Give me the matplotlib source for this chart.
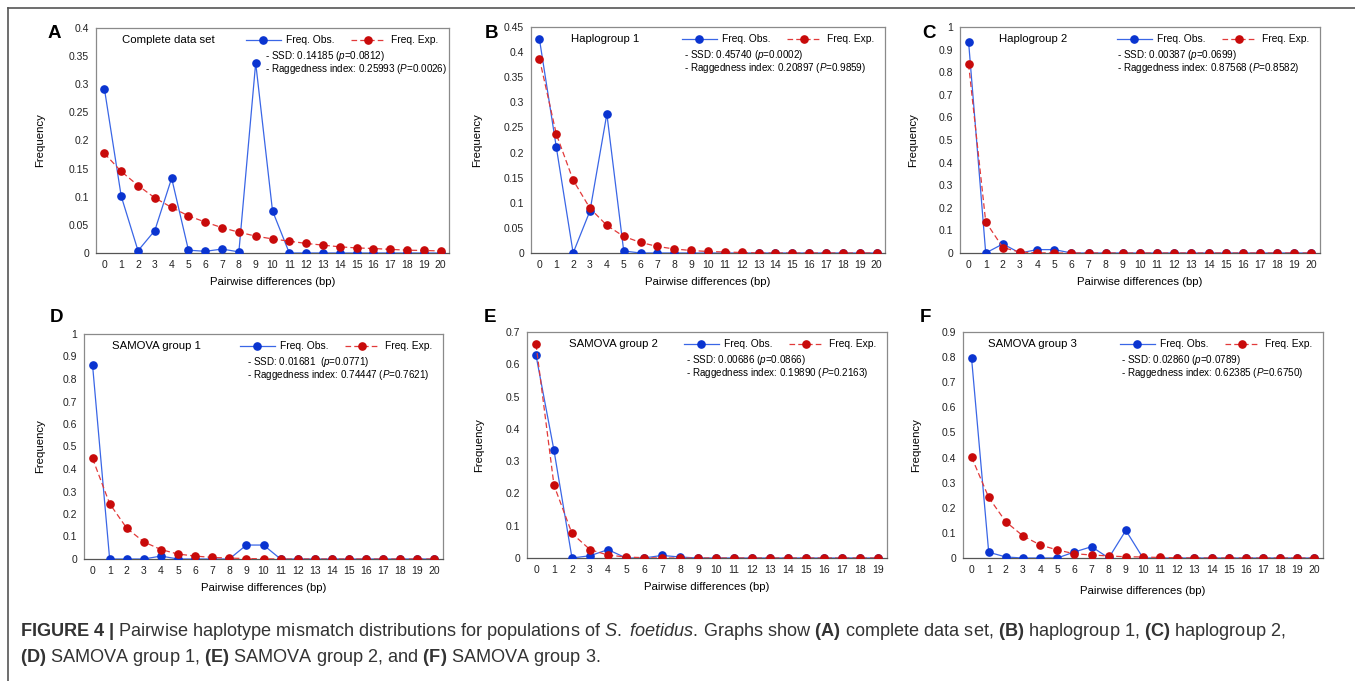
import numpy as np
import matplotlib
matplotlib.use("Agg")
import matplotlib.pyplot as plt
from matplotlib.ticker import FuncFormatter, MultipleLocator
from matplotlib.lines import Line2D

plt.rcParams['font.family'] = ['Liberation Sans', 'DejaVu Sans']
plt.rcParams['mathtext.fontset'] = 'custom'
plt.rcParams['mathtext.rm'] = 'Liberation Sans'
plt.rcParams['mathtext.it'] = 'Liberation Sans:italic'
plt.rcParams['mathtext.bf'] = 'Liberation Sans:bold'

# %% data
diffs_20 = list(range(21))
diffs_19 = list(range(20))

obs_a = [0.292, 0.101, 0.004, 0.040, 0.133, 0.005, 0.003, 0.007, 0.002, 0.338, 0.075,
         0, 0, 0, 0, 0, 0, 0, 0, 0, 0]
exp_a = [0.177, 0.145, 0.120, 0.098, 0.081, 0.066, 0.055, 0.045, 0.037, 0.030, 0.025,
         0.021, 0.017, 0.014, 0.011, 0.009, 0.008, 0.0065, 0.005, 0.0045, 0.0036]

obs_b = [0.426, 0.211, 0, 0.084, 0.277, 0.004, 0, 0, 0, 0, 0,
         0, 0, 0, 0, 0, 0, 0, 0, 0, 0]
exp_b = [0.387, 0.237, 0.145, 0.089, 0.055, 0.033, 0.021, 0.013, 0.008, 0.005, 0.003,
         0.002, 0.001, 0, 0, 0, 0, 0, 0, 0, 0]

obs_c = [0.935, 0, 0.040, 0, 0.015, 0.015, 0, 0, 0, 0, 0,
         0, 0, 0, 0, 0, 0, 0, 0, 0, 0]
exp_c = [0.836, 0.138, 0.024, 0.004, 0.001, 0, 0, 0, 0, 0, 0,
         0, 0, 0, 0, 0, 0, 0, 0, 0, 0]

obs_d = [0.862, 0, 0, 0, 0.013, 0, 0, 0, 0, 0.062, 0.062,
         0, 0, 0, 0, 0, 0, 0, 0, 0, 0]
exp_d = [0.447, 0.246, 0.137, 0.076, 0.042, 0.022, 0.013, 0.007, 0.004, 0.002, 0.001,
         0, 0, 0, 0, 0, 0, 0, 0, 0, 0]

obs_e = [0.628, 0.333, 0, 0.007, 0.026, 0, 0, 0.008, 0.003, 0,
         0, 0, 0, 0, 0, 0, 0, 0, 0, 0]
exp_e = [0.662, 0.225, 0.076, 0.026, 0.009, 0.003, 0.001, 0, 0, 0,
         0, 0, 0, 0, 0, 0, 0, 0, 0, 0]

obs_f = [0.795, 0.023, 0.004, 0, 0, 0, 0.024, 0.045, 0, 0.110, 0,
         0, 0, 0, 0, 0, 0, 0, 0, 0, 0]
exp_f = [0.402, 0.241, 0.144, 0.088, 0.052, 0.032, 0.017, 0.012, 0.008, 0.005, 0.004,
         0.002, 0.001, 0, 0, 0, 0, 0, 0, 0, 0]

letters = ['A', 'B', 'C', 'D', 'E', 'F']
groups = ['Complete data set', 'Haplogroup 1', 'Haplogroup 2',
          'SAMOVA group 1', 'SAMOVA group 2', 'SAMOVA group 3']
ssd = ['0.14185', '0.45740', '0.00387', '0.01681 ', '0.00686', '0.02860']
ssd_p = ['0.0812', '0.0002', '0.0699', '0.0771', '0.0866', '0.0789']
rag = ['0.25993', '0.20897', '0.87568', '0.74447', '0.19890', '0.62385']
rag_p = ['0.0026', '0.9859', '0.8582', '0.7621', '0.2163', '0.6750']
ymax = [0.4, 0.45, 1.0, 1.0, 0.7, 0.9]
ystep = [0.05, 0.05, 0.1, 0.1, 0.1, 0.1]

xs = [diffs_20, diffs_20, diffs_20, diffs_20, diffs_19, diffs_20]
obs = [obs_a, obs_b, obs_c, obs_d, obs_e, obs_f]
exp = [exp_a, exp_b, exp_c, exp_d, exp_e, exp_f]

# %% layout (pixels of the 1355x681 reference)
W, H = 1355, 681
boxes = [(96, 28, 353, 225), (531, 27, 354, 226), (960, 27, 360, 226),
         (84, 334, 359, 225), (527, 332, 360, 226), (963, 332, 360, 226)]
label_x = [0.074, 0.113, 0.108, 0.078, 0.117, 0.07]
ssd_x = [0.48, 0.432, 0.436, 0.454, 0.442, 0.44]
ylab_x = [-0.144, -0.138, -0.117, -0.109, -0.119, -0.117]
letter_pos = [(48, 33), (485, 33), (922, 33), (50, 317), (484, 317), (920, 317)]

obs_line, obs_mark = '#3a66e6', '#0a34d0'
exp_line, exp_mark = '#e23a3a', '#c80a0a'
spine_c = '#8a8a8a'

fig = plt.figure(figsize=(W / 100, H / 100), dpi=100)

fmt = FuncFormatter(lambda v, p: '{:g}'.format(round(v, 3)))

for i in range(6):
    l, t, w, h = boxes[i]
    ax = fig.add_axes([l / W, 1 - (t + h) / H, w / W, h / H])
    x = xs[i]
    ax.plot(x, obs[i], '-', color=obs_line, lw=0.9, marker='o', ms=5.2,
            mfc=obs_mark, mec=obs_mark, zorder=3)
    ax.plot(x, exp[i], '--', color=exp_line, lw=0.9, dashes=(4.5, 2.5), marker='o', ms=5.2,
            mfc=exp_mark, mec=exp_mark, zorder=4)
    ax.set_xlim(-0.5, len(x) - 0.5)
    ax.set_ylim(0, ymax[i])
    ax.set_xticks(x)
    ax.yaxis.set_major_locator(MultipleLocator(ystep[i]))
    ax.yaxis.set_major_formatter(fmt)
    ax.tick_params(length=0, labelsize=7.5, colors='#222222', pad=5)
    for s in ax.spines.values():
        s.set_color(spine_c)
        s.set_linewidth(0.9)
    ax.spines['bottom'].set_color('#555555')
    ax.set_xlabel('Pairwise differences (bp)', fontsize=8.2, labelpad=5 if i != 5 else 8)
    ax.set_ylabel('Frequency', fontsize=8.2)
    ax.yaxis.set_label_coords(ylab_x[i], 0.5)

    ax.text(label_x[i], 0.947, groups[i], transform=ax.transAxes, fontsize=8.2,
            ha='left', va='center')
    ax.text(ssd_x[i], 0.876, '- SSD: %s ($\\mathit{p}$=%s)' % (ssd[i], ssd_p[i]),
            transform=ax.transAxes, fontsize=7.1, ha='left', va='center')
    ax.text(ssd_x[i], 0.82, '- Raggedness index: %s ($\\mathit{P}$=%s)' % (rag[i], rag_p[i]),
            transform=ax.transAxes, fontsize=7.1, ha='left', va='center')

    handles = [Line2D([], [], color=obs_line, lw=0.9, marker='o', ms=5.2,
                      mfc=obs_mark, mec=obs_mark),
               Line2D([], [], color=exp_line, lw=0.9, ls='--', dashes=(4.5, 2.5), marker='o',
                      ms=5.2, mfc=exp_mark, mec=exp_mark)]
    ax.legend(handles, ['Freq. Obs.', 'Freq. Exp.'], ncol=2, loc='upper right',
              bbox_to_anchor=(0.99, 1.0), frameon=False, fontsize=7.4,
              handlelength=3.4, handletextpad=0.5, columnspacing=1.6,
              borderaxespad=0.3, markerscale=1.0)

    lx, ly = letter_pos[i]
    fig.text(lx / W, 1 - ly / H, letters[i], fontsize=13.5, fontweight='bold',
             ha='left', va='center')

# %% frame lines and caption
fig.add_artist(Line2D([8 / W, 1], [1 - 8 / H, 1 - 8 / H], color='#555555', lw=1.2))
fig.add_artist(Line2D([8 / W, 8 / W], [0, 1 - 8 / H], color='#555555', lw=1.2))

cap1 = ('$\\mathbf{FIGURE\\ 4\\ |}$ Pairwise haplotype mismatch distributions for populations of '
        '$\\mathit{S.}$ $\\mathit{foetidus}$. Graphs show $\\mathbf{(A)}$ complete data set, '
        '$\\mathbf{(B)}$ haplogroup 1, $\\mathbf{(C)}$ haplogroup 2,')
cap2 = ('$\\mathbf{(D)}$ SAMOVA group 1, $\\mathbf{(E)}$ SAMOVA group 2, and '
        '$\\mathbf{(F)}$ SAMOVA group 3.')
fig.text(20 / W, 1 - 632 / H, cap1, fontsize=13.1, color='#333333', ha='left', va='center')
fig.text(20 / W, 1 - 657 / H, cap2, fontsize=13.1, color='#333333', ha='left', va='center')

fig.savefig('out.png', dpi=100)
